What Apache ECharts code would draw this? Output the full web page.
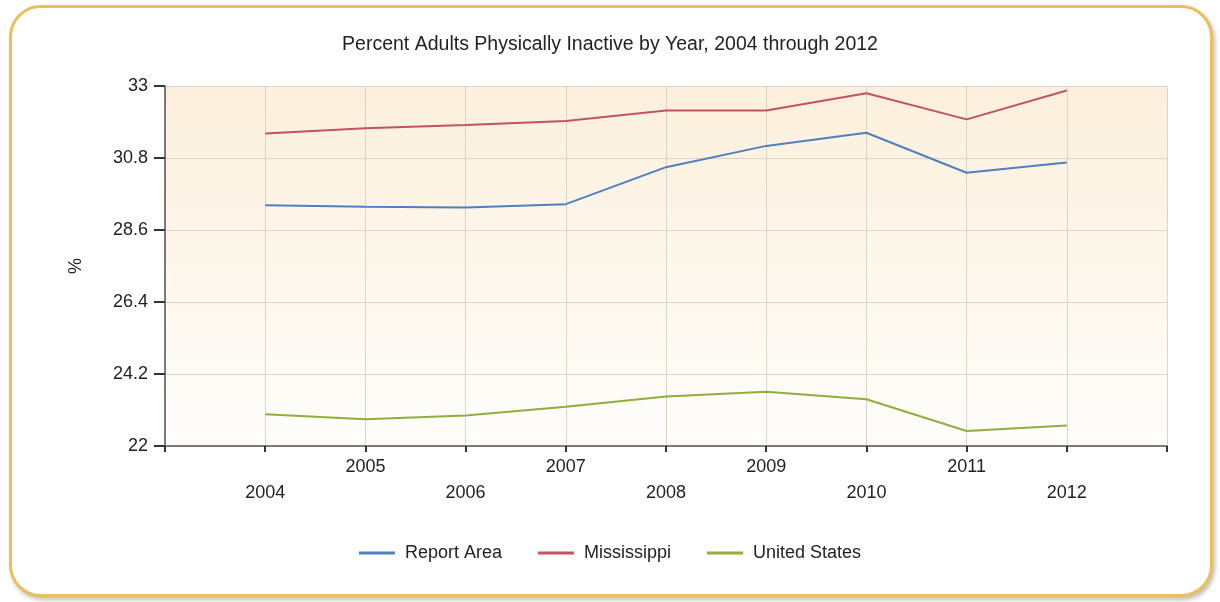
<!DOCTYPE html>
<html>
<head>
<meta charset="utf-8">
<script src="https://cdn.jsdelivr.net/npm/echarts@6/dist/echarts.min.js"></script>
<style>
html,body{margin:0;padding:0;background:#ffffff;}
#card{position:absolute;left:9px;top:5px;width:1198px;height:586px;border:3px solid #e9c05e;border-radius:32px;box-shadow:2px 3px 4px rgba(120,110,90,0.45);background:#fff;}
#chart{position:absolute;left:0;top:0;width:1220px;height:602px;}
</style>
</head>
<body>
<div id="card"></div>
<div id="chart"></div>
<script>
const titleText = 'Percent Adults Physically Inactive by Year, 2004 through 2012';
const years = [2004, 2005, 2006, 2007, 2008, 2009, 2010, 2011, 2012];
const reportArea = [29.36, 29.31, 29.29, 29.39, 30.52, 31.17, 31.57, 30.35, 30.66];
const mississippi = [31.55, 31.71, 31.81, 31.93, 32.25, 32.25, 32.78, 31.98, 32.86];
const unitedStates = [22.97, 22.82, 22.93, 23.20, 23.51, 23.66, 23.43, 22.46, 22.63];
const seriesNames = ['Report Area', 'Mississippi', 'United States'];
const seriesColors = ['#4f7fbf', '#c4525f', '#8fae3c'];
const yTicks = [22, 24.2, 26.4, 28.6, 30.8, 33];

const pair = arr => years.map((y, i) => [y, arr[i]]);
const chart = echarts.init(document.getElementById('chart'), null, {renderer: 'canvas'});
const font = 'Liberation Sans, Arial, sans-serif';
chart.setOption({
  animation: false,
  backgroundColor: 'transparent',
  title: {
    text: titleText, left: 'center', top: 30,
    textStyle: {fontFamily: font, fontSize: 19.5, fontWeight: 'normal', color: '#222'}
  },
  legend: {
    top: 539, left: 'center', itemWidth: 36, itemHeight: 3, itemGap: 36,
    icon: 'rect',
    textStyle: {fontFamily: font, fontSize: 18, color: '#222', padding: [0, 0, 0, 5]},
    data: seriesNames
  },
  grid: {
    left: 165, right: 53, top: 86, bottom: 156,
    show: true, borderWidth: 0,
    backgroundColor: new echarts.graphic.LinearGradient(0, 0, 0, 1, [
      {offset: 0, color: '#fcf0dc'},
      {offset: 1, color: '#fefdfb'}
    ])
  },
  xAxis: {
    type: 'value', min: 2003, max: 2013, interval: 1,
    axisLine: {show: true, onZero: false, lineStyle: {color: '#555', width: 1.5}},
    axisTick: {show: true, length: 6, lineStyle: {color: '#333', width: 2}},
    splitLine: {show: true, lineStyle: {color: '#dcd5c7', width: 1}},
    axisLabel: {
      margin: 8, lineHeight: 26,
      fontFamily: font, fontSize: 18, color: '#222',
      formatter: v => {
        if (v < years[0] || v > years[years.length - 1]) return '';
        return (v % 2 === 0) ? '\n' + v : String(v);
      }
    }
  },
  yAxis: {
    type: 'value', min: yTicks[0], max: yTicks[yTicks.length - 1], interval: 2.2,
    name: '%', nameLocation: 'middle', nameGap: 80, nameRotate: 90,
    nameTextStyle: {fontFamily: font, fontSize: 18, color: '#222'},
    axisLine: {show: true, lineStyle: {color: '#555', width: 1.5}},
    axisTick: {show: true, length: 11, lineStyle: {color: '#333', width: 2}},
    splitLine: {show: true, lineStyle: {color: '#dcd5c7', width: 1}},
    axisLabel: {
      margin: 17, fontFamily: font, fontSize: 18, color: '#222',
      formatter: v => String(+v.toFixed(1))
    }
  },
  series: [
    {name: seriesNames[0], type: 'line', data: pair(reportArea), showSymbol: false, symbol: 'none',
     lineStyle: {color: seriesColors[0], width: 2}, itemStyle: {color: seriesColors[0]}},
    {name: seriesNames[1], type: 'line', data: pair(mississippi), showSymbol: false, symbol: 'none',
     lineStyle: {color: seriesColors[1], width: 2}, itemStyle: {color: seriesColors[1]}},
    {name: seriesNames[2], type: 'line', data: pair(unitedStates), showSymbol: false, symbol: 'none',
     lineStyle: {color: seriesColors[2], width: 2}, itemStyle: {color: seriesColors[2]}}
  ]
});
</script>
</body>
</html>
